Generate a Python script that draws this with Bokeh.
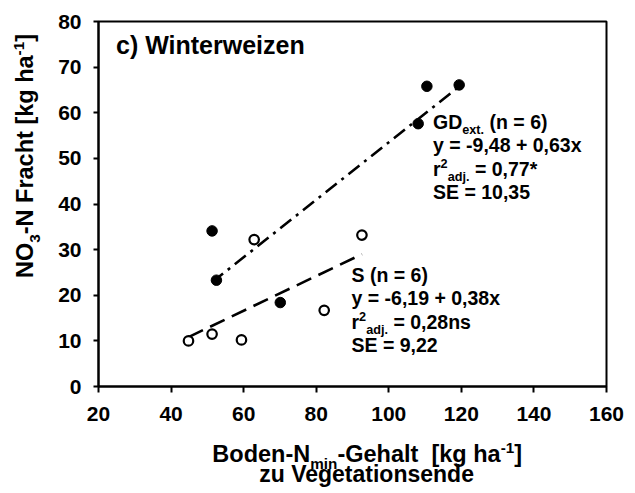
from bokeh.plotting import figure
from bokeh.models import Label, Range1d, FixedTicker
from bokeh.layouts import column, row
from bokeh.embed import file_html
from bokeh.resources import INLINE

# ---------------- data ----------------
gd_x = [51.3, 52.5, 70.1, 108.1, 110.5, 119.4]
gd_y = [34.1, 23.3, 18.4, 57.6, 65.8, 66.1]
s_x = [44.8, 51.3, 59.4, 62.9, 82.2, 92.6]
s_y = [10.0, 11.5, 10.2, 32.2, 16.7, 33.2]
gd_intercept, gd_slope = -9.48, 0.63
s_intercept, s_slope = -6.19, 0.38
x_ticks = [20, 40, 60, 80, 100, 120, 140, 160]
y_ticks = [0, 10, 20, 30, 40, 50, 60, 70, 80]

FONT = "Liberation Sans"
BASE_CORR = 0.36  # empirical correction of Bokeh's alphabetic baseline (em)

# Arial / Liberation Sans Bold advance widths (per 1000 em)
W = {" ": 278, "(": 333, ")": 333, "*": 389, "+": 584, ",": 278, "-": 333, ".": 278,
     "=": 584, "[": 333, "]": 333, "0": 556, "1": 556, "2": 556, "3": 556, "4": 556,
     "5": 556, "6": 556, "7": 556, "8": 556, "9": 556,
     "B": 722, "D": 722, "E": 667, "F": 611, "G": 778, "N": 722, "O": 778, "S": 667,
     "V": 667, "W": 944,
     "a": 556, "c": 556, "d": 611, "e": 556, "g": 611, "h": 611, "i": 278, "j": 278,
     "k": 556, "l": 278, "m": 889, "n": 611, "o": 611, "r": 389, "s": 556, "t": 333,
     "u": 611, "w": 778, "x": 556, "y": 556, "z": 500}


def tw(s, size):
    return sum(W.get(c, 556) for c in s) * size / 1000.0


def blank_fig(w, h):
    f = figure(width=w, height=h, output_backend="svg", toolbar_location=None,
               x_range=Range1d(0, 1), y_range=Range1d(0, 1), title=None,
               x_axis_location=None, y_axis_location=None, min_border=0)
    f.min_border_left = f.min_border_right = f.min_border_top = f.min_border_bottom = 0
    f.outline_line_color = None
    f.background_fill_color = "white"
    f.border_fill_color = "white"
    f.grid.visible = False
    return f


def rich(fig, segs, x, y, size, align="left", angle=0.0):
    sizes = [size if k == "n" else size * 0.65 for _, k in segs]
    widths = [tw(t, sz) for (t, k), sz in zip(segs, sizes)]
    total = sum(widths)
    pos = -total / 2 if align == "center" else 0.0
    for (t, k), sz in zip(segs, sizes):
        shift = {"n": 0.0, "sub": -0.3 * size, "sup": 0.38 * size}[k]
        shift += BASE_CORR * sz
        word = ""
        tokens = []
        for c in t:
            if c == " ":
                if word:
                    tokens.append(word)
                    word = ""
                tokens.append(" ")
            else:
                word += c
        if word:
            tokens.append(word)
        for tok in tokens:
            if tok != " ":
                if angle == 0.0:
                    xo, yo = pos, shift
                else:
                    xo, yo = -shift, pos
                fig.add_layout(Label(x=x, y=y, x_units="screen", y_units="screen",
                                     x_offset=xo, y_offset=yo, text=tok, angle=angle,
                                     text_font=FONT, text_font_style="bold",
                                     text_font_size=f"{sz:.2f}px", text_color="black",
                                     text_baseline="alphabetic", text_align="left"))
            pos += tw(tok, sz)


# ---------------- main plot ----------------
YL_W = 52
P_H = 436
p = figure(width=635 - YL_W, height=P_H, output_backend="svg", toolbar_location=None,
           x_range=Range1d(20, 160), y_range=Range1d(0, 80), title=None,
           min_border_left=98 - YL_W, min_border_right=29, min_border_top=21,
           min_border_bottom=50)
p.background_fill_color = "white"
p.border_fill_color = "white"
p.outline_line_color = "black"
p.outline_line_width = 2
p.xgrid.visible = False
p.ygrid.visible = False

for ax in (p.xaxis, p.yaxis):
    ax.axis_line_width = 2
    ax.axis_line_color = "black"
    ax.major_tick_line_width = 2
    ax.major_tick_line_color = "black"
    ax.major_tick_in = 0
    ax.minor_tick_line_color = None
    ax.major_label_text_font = FONT
    ax.major_label_text_font_style = "bold"
    ax.major_label_text_font_size = "21px"
    ax.major_label_text_color = "black"
p.xaxis.ticker = FixedTicker(ticks=x_ticks)
p.yaxis.ticker = FixedTicker(ticks=y_ticks)
p.xaxis.major_tick_out = 6
p.yaxis.major_tick_out = 5
p.xaxis.major_label_standoff = 14
p.yaxis.major_label_standoff = 12

# regression lines over the range of each group
gx = [min(gd_x), max(gd_x)]
gy = [gd_intercept + gd_slope * v for v in gx]
sx = [min(s_x), max(s_x)]
sy = [s_intercept + s_slope * v for v in sx]
p.line(gx, gy, line_color="black", line_width=2.6, line_dash="14 6 3 6")
p.line(sx, sy, line_color="black", line_width=2.6, line_dash="16 8")

p.scatter(gd_x, gd_y, size=10.5, fill_color="black", line_color="black", line_width=1)
p.scatter(s_x, s_y, size=9.5, fill_color="white", line_color="black", line_width=2.2)

ANN = 19.5
LH = 23.5
rich(p, [("c) Winterweizen", "n")], 17.5, 332.5, 25.0)

gd_lines = [
    [("GD", "n"), ("ext.", "sub"), (" (n = 6)", "n")],
    [("y = -9,48 + 0,63x", "n")],
    [("r", "n"), ("2", "sup"), ("adj.", "sub"), (" = 0,77*", "n")],
    [("SE = 10,35", "n")],
]
for i, segs in enumerate(gd_lines):
    rich(p, segs, 334.5, 257.7 - i * LH, ANN)

s_lines = [
    [("S (n = 6)", "n")],
    [("y = -6,19 + 0,38x", "n")],
    [("r", "n"), ("2", "sup"), ("adj.", "sub"), (" = 0,28ns", "n")],
    [("SE = 9,22", "n")],
]
for i, segs in enumerate(s_lines):
    rich(p, segs, 253.0, 104.7 - i * LH, ANN)

# ---------------- y axis label panel ----------------
ylab = blank_fig(YL_W, P_H)
rich(ylab, [("NO", "n"), ("3", "sub"), ("-N Fracht [kg ha", "n"), ("-1", "sup"), ("]", "n")],
     33.3, P_H - 205.5, 23.5, align="center", angle=1.5707963267948966)

# ---------------- x axis label panel ----------------
XL_H = 493 - P_H
xlab = blank_fig(635, XL_H)
rich(xlab, [("Boden-N", "n"), ("min", "sub"), ("-Gehalt  [kg ha", "n"), ("-1", "sup"), ("]", "n")],
     366.7, 493 - 461.7, 23.5, align="center")
rich(xlab, [("zu Vegetationsende", "n")], 366.7, 493 - 481.7, 23.0, align="center")

layout = column(row(ylab, p, spacing=0), xlab, spacing=0)
open("out.html", "w").write(file_html(layout, INLINE))
